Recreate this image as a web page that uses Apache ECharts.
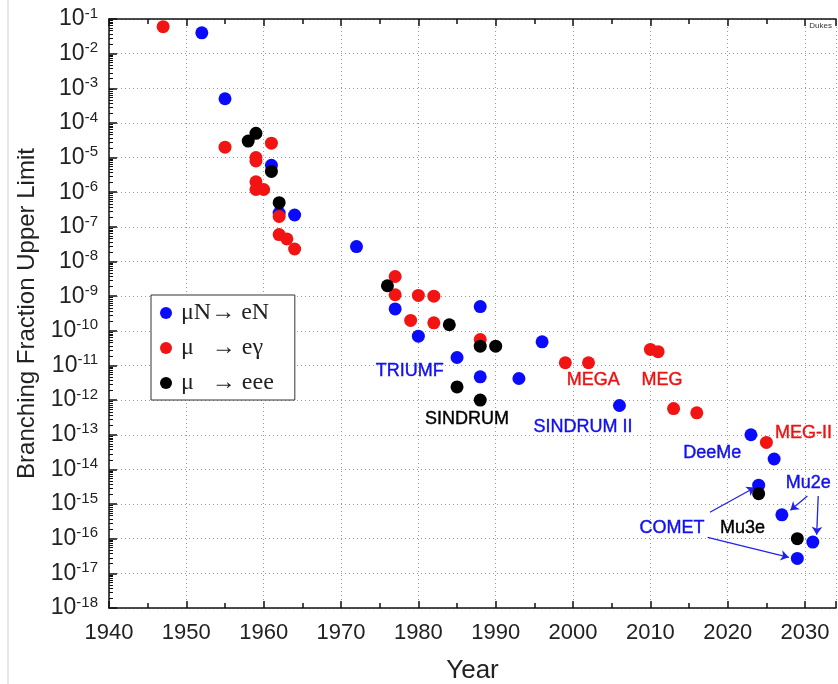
<!DOCTYPE html>
<html>
<head>
<meta charset="utf-8">
<script src="https://cdn.jsdelivr.net/npm/echarts@6/dist/echarts.min.js"></script>
<style>
html, body { margin: 0; padding: 0; background: #fff; }
#chart { width: 838px; height: 684px; }
</style>
</head>
<body>
<div id="chart"></div>
<script>
// [year, branching fraction upper limit]
const muConversion = [
  [1952, 4e-2], [1955, 5e-4], [1961, 6e-6], [1962, 2.5e-7], [1964, 2.2e-7],
  [1972, 2.7e-8], [1977, 4.3e-10], [1980, 7e-11], [1988, 5e-10], [1985, 1.7e-11],
  [1988, 4.7e-12], [1993, 4.2e-12], [1996, 4.8e-11], [2006, 7e-13], [2023, 1e-13],
  [2026, 2e-14], [2024, 3.5e-15], [2027, 4.9e-16], [2029, 2.7e-17], [2031, 8e-17]
];
const muEgamma = [
  [1947, 6e-2], [1955, 2e-5], [1961, 2.6e-5], [1959, 1e-5], [1959, 8e-6],
  [1959, 2e-6], [1959, 1.2e-6], [1960, 1.2e-6], [1962, 2e-7], [1962, 6e-8],
  [1963, 4.5e-8], [1964, 2.3e-8], [1977, 3.7e-9], [1977, 1.1e-9], [1980, 1.05e-9],
  [1982, 1e-9], [1979, 2e-10], [1982, 1.7e-10], [1988, 5.6e-11], [1999, 1.2e-11],
  [2002, 1.2e-11], [2010, 2.9e-11], [2011, 2.5e-11], [2013, 5.7e-13], [2016, 4.3e-13],
  [2025, 6e-14]
];
const muEee = [
  [1958, 3e-5], [1959, 5e-5], [1961, 4e-6], [1962, 5e-7], [1976, 2e-9],
  [1984, 1.5e-10], [1988, 3.6e-11], [1990, 3.6e-11], [1985, 2.4e-12], [1988, 1e-12],
  [2024, 2e-15], [2029, 1e-16]
];
const seriesNames = ['\u03bcN\u2192 eN', '\u03bc   \u2192 e\u03b3', '\u03bc   \u2192 eee'];
const seriesColors = ['#0a0aff', '#f21313', '#000000'];

// experiment labels: [text, year, value, colour]
const experiments = [
  ['TRIUMF', 1978.9, 6.8e-12, '#1010f0'],
  ['SINDRUM', 1986.3, 2.8e-13, '#000000'],
  ['SINDRUM II', 2001.3, 1.7e-13, '#1010f0'],
  ['MEGA', 2002.6, 3.7e-12, '#f01010'],
  ['MEG', 2011.5, 3.7e-12, '#f01010'],
  ['MEG-II', 2029.8, 1.1e-13, '#f01010'],
  ['DeeMe', 2018.0, 2.9e-14, '#1010f0'],
  ['Mu2e', 2030.4, 4e-15, '#1010f0'],
  ['COMET', 2012.8, 2.1e-16, '#1010f0'],
  ['Mu3e', 2021.9, 2e-16, '#000000']
];
// arrows from labels to future experiments: [from, to]
const arrows = [
  [[2017.7, 5.8e-16], [2023.5, 3.0e-15]],
  [[2017.4, 1.1e-16], [2027.9, 2.9e-17]],
  [[2030.3, 1.7e-15], [2028.1, 6.6e-16]],
  [[2031.7, 1.7e-15], [2031.5, 1.3e-16]]
];

const chart = echarts.init(document.getElementById('chart'), null, { renderer: 'canvas' });

const splitDots = { show: true, lineStyle: { color: '#9a9a9a', type: [1, 3], width: 1 } };

chart.setOption({
  animation: false,
  backgroundColor: '#fff',
  grid: { left: 109, top: 19, width: 727, height: 589, outerBoundsMode: 'none', containLabel: false },
  legend: {
    data: seriesNames,
    orient: 'vertical',
    left: 151, top: 295,
    backgroundColor: '#fff',
    borderColor: '#333', borderWidth: 1,
    padding: [6, 21, 5, 9],
    itemGap: 11,
    itemWidth: 12, itemHeight: 12,
    icon: 'circle',
    textStyle: { fontFamily: 'Liberation Serif', fontSize: 24, color: '#222', lineHeight: 24, padding: [0, 0, 0, 4] }
  },
  xAxis: [{
    type: 'value', min: 1940, max: 2034, interval: 10,
    name: 'Year', nameLocation: 'middle', nameGap: 50,
    nameTextStyle: { fontFamily: 'Liberation Sans', fontSize: 26, color: '#222' },
    axisLine: { lineStyle: { color: '#111', width: 1.5 } },
    axisTick: { inside: true, length: 7, lineStyle: { color: '#111', width: 1.5 } },
    minorTick: { show: true, splitNumber: 2, length: 5, lineStyle: { color: '#111', width: 1.5 } },
    axisLabel: {
      margin: 14, fontFamily: 'Liberation Sans', fontSize: 22, color: '#222',
      formatter: v => (v % 10 === 0 && v <= 2030) ? String(v) : ''
    },
    splitLine: splitDots
  }, {
    type: 'value', min: 1940, max: 2034, interval: 10, position: 'top',
    axisLine: { lineStyle: { color: '#111', width: 1.5 } },
    axisTick: { inside: true, length: 7, lineStyle: { color: '#111', width: 1.5 } },
    minorTick: { show: true, splitNumber: 2, length: 5, lineStyle: { color: '#111', width: 1.5 } },
    axisLabel: { show: false },
    splitLine: { show: false }
  }],
  yAxis: {
    type: 'log', logBase: 10, min: 1e-18, max: 1e-1, interval: 1,
    name: 'Branching Fraction Upper Limit', nameLocation: 'middle', nameGap: 70,
    nameTextStyle: { fontFamily: 'Liberation Sans', fontSize: 24, color: '#222' },
    axisLine: { show: true, lineStyle: { color: '#111', width: 1.5 } },
    axisTick: { inside: true, length: 8, lineStyle: { color: '#111', width: 1.5 } },
    minorTick: { show: true, splitNumber: 10, length: 4, lineStyle: { color: '#111', width: 1 } },
    axisLabel: {
      margin: 11,
      formatter: v => '{b|10}{s|' + Math.round(Math.log10(v)) + '}',
      rich: {
        b: { fontFamily: 'Liberation Sans', fontSize: 23, color: '#222' },
        s: { fontFamily: 'Liberation Sans', fontSize: 15, color: '#222', padding: [0, 0, 11, 0] }
      }
    },
    splitLine: splitDots
  },
  graphic: [
    { type: 'line', shape: { x1: 8, y1: 0, x2: 8, y2: 684 }, style: { stroke: '#cfcfcf', lineWidth: 1 } },
    { type: 'text', right: 6, top: 22, style: { text: 'Dukes', fontFamily: 'Liberation Sans', fontSize: 8, fill: '#333' } }
  ],
  series: [
    { name: seriesNames[0], type: 'scatter', data: muConversion, symbolSize: 13, itemStyle: { color: seriesColors[0], opacity: 1 } },
    { name: seriesNames[1], type: 'scatter', data: muEgamma, symbolSize: 13, itemStyle: { color: seriesColors[1], opacity: 1 } },
    { name: seriesNames[2], type: 'scatter', data: muEee, symbolSize: 13, itemStyle: { color: seriesColors[2], opacity: 1 } },
    {
      type: 'lines', coordinateSystem: 'cartesian2d', silent: true,
      symbol: ['none', 'arrow'], symbolSize: 8,
      lineStyle: { color: '#2222ee', width: 1.3, opacity: 1 },
      data: arrows.map(a => ({ coords: a }))
    },
    {
      type: 'scatter', silent: true, symbolSize: 2,
      itemStyle: { color: 'rgba(0,0,0,0)' },
      label: {
        show: true, position: 'inside', fontFamily: 'Liberation Sans', fontSize: 18,
        opacity: 1, formatter: p => p.name
      },
      labelLayout: { hideOverlap: false },
      data: experiments.map(e => ({
        name: e[0], value: [e[1], e[2]],
        label: { color: e[3], textBorderColor: e[3], textBorderWidth: 0.4 }
      }))
    }
  ]
});
</script>
</body>
</html>
